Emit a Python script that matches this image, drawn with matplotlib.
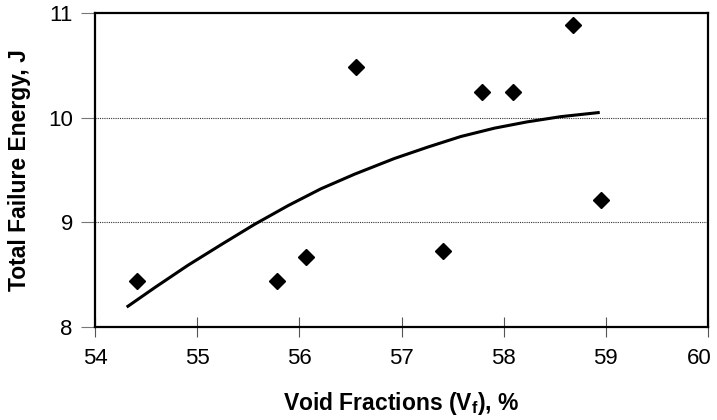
import matplotlib
matplotlib.use("Agg")
import matplotlib.pyplot as plt
import matplotlib.transforms as mtransforms

# measured points (void fraction %, total failure energy J)
void_frac = [54.41, 55.78, 56.07, 56.55, 57.41, 57.79, 58.09, 58.68, 58.95]
energy = [8.44, 8.44, 8.67, 10.48, 8.73, 10.25, 10.25, 10.89, 9.21]

# trend curve
trend_x = [54.31, 54.59, 54.91, 55.24, 55.56, 55.89, 56.21, 56.54, 56.93,
           57.26, 57.58, 57.91, 58.23, 58.56, 58.94]
trend_y = [8.19, 8.38, 8.59, 8.79, 8.98, 9.16, 9.32, 9.46, 9.61,
           9.72, 9.82, 9.90, 9.96, 10.01, 10.05]

x_ticks = [54, 55, 56, 57, 58, 59, 60]
y_ticks = [8, 9, 10, 11]

plt.rcParams["font.family"] = ["Liberation Sans", "DejaVu Sans"]
plt.rcParams["mathtext.fontset"] = "custom"
plt.rcParams["mathtext.rm"] = "Liberation Sans:bold"
plt.rcParams["mathtext.bf"] = "Liberation Sans:bold"

fig = plt.figure(figsize=(7.17, 4.2), dpi=100)
ax = fig.add_axes([0.1325, 0.2214, 0.855, 0.7476])

for yv in [9, 10]:
    ax.axhline(yv, color="#333333", linestyle=(0, (1, 1)), linewidth=0.8, zorder=1)

ax.plot(trend_x, trend_y, color="black", linewidth=2.2, solid_capstyle="butt",
        solid_joinstyle="round", zorder=2)
ax.plot(void_frac, energy, linestyle="none", marker="D", markersize=8.5,
        color="black", zorder=3)

ax.set_xlim(54, 60)
ax.set_ylim(8, 11)
ax.set_xticks(x_ticks)
ax.set_yticks(y_ticks)
ax.tick_params(axis="x", direction="inout", length=14, width=0.8, color="#555555",
               labelsize=16, pad=8)
ax.tick_params(axis="y", direction="out", length=10, width=0.8, color="#777777",
               labelsize=16, pad=6)

# last x label sits a bit left of its tick in the original
shift = mtransforms.ScaledTranslation(-6 / 72, 0, fig.dpi_scale_trans)
last = ax.get_xticklabels()[-1]
last.set_transform(last.get_transform() + shift)

for side in ["left", "right", "top", "bottom"]:
    ax.spines[side].set_linewidth(1.6)

ax.set_xlabel(r"Void Fractions (V$_\mathbf{f}$), %", fontsize=16.5, fontweight="bold",
              labelpad=15)
ax.set_ylabel("Total Failure Energy, J", fontsize=16.5, fontweight="bold", labelpad=12)

fig.savefig("out.png", dpi=100, facecolor="white")
